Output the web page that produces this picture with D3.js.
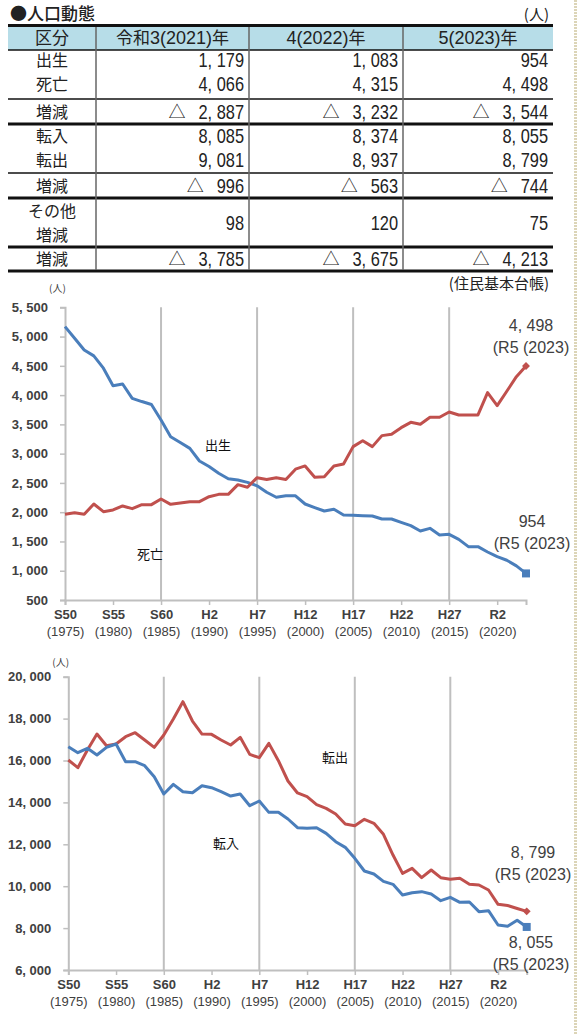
<!DOCTYPE html>
<html>
<head>
<meta charset="utf-8">
<script src="https://cdnjs.cloudflare.com/ajax/libs/d3/7.8.5/d3.min.js"></script>
<style>
  body { margin: 0; background: #fff; }
  svg { display: block; }
  .jp { font-family: "Noto Sans CJK JP", sans-serif; }
</style>
</head>
<body>
<div id="chart"></div>
<script>
  // ---- table data (人) ----
  const tableCols = ['令和3(2021)年', '4(2022)年', '5(2023)年']
  const tblBirth = [1179, 1083, 954]
  const tblDeath = [4066, 4315, 4498]
  const tblNatural = [-2887, -3232, -3544]
  const tblIn = [8085, 8374, 8055]
  const tblOut = [9081, 8937, 8799]
  const tblSocial = [-996, -563, -744]
  const tblOther = [98, 120, 75]
  const tblTotal = [-3785, -3675, -4213]

  // ---- yearly series, S50(1975) .. R5(2023) ----
  const years = [1975, 1976, 1977, 1978, 1979, 1980, 1981, 1982, 1983, 1984,
    1985, 1986, 1987, 1988, 1989, 1990, 1991, 1992, 1993, 1994,
    1995, 1996, 1997, 1998, 1999, 2000, 2001, 2002, 2003, 2004,
    2005, 2006, 2007, 2008, 2009, 2010, 2011, 2012, 2013, 2014,
    2015, 2016, 2017, 2018, 2019, 2020, 2021, 2022, 2023]
  const births = [5170, 4970, 4770, 4670, 4460, 4160, 4190, 3945, 3890, 3840,
    3575, 3290, 3190, 3090, 2875, 2780, 2665, 2570, 2550, 2510,
    2450, 2340, 2255, 2280, 2280, 2140, 2078, 2020, 2050, 1952,
    1946, 1940, 1935, 1884, 1884, 1827, 1770, 1679, 1724, 1610,
    1622, 1536, 1411, 1411, 1320, 1240, 1179, 1083, 954]
  const deaths = [1964, 1992, 1964, 2140, 2009, 2038, 2106, 2060, 2129, 2129,
    2226, 2134, 2157, 2180, 2180, 2265, 2305, 2305, 2470, 2425,
    2590, 2560, 2590, 2560, 2735, 2790, 2596, 2607, 2790, 2824,
    3120, 3222, 3120, 3308, 3330, 3444, 3535, 3501, 3621, 3621,
    3712, 3661, 3661, 3661, 4042, 3820, 4066, 4315, 4498]
  const moveOut = [16023, 15657, 16500, 17264, 16707, 16786, 17136, 17327, 16977, 16627,
    17216, 17980, 18807, 17884, 17264, 17248, 16977, 16739, 17105, 16293,
    16134, 16818, 15991, 15021, 14450, 14273, 13891, 13716, 13446, 12968,
    12889, 13191, 13000, 12475, 11489, 10614, 10852, 10407, 10773, 10407,
    10327, 10375, 10089, 10057, 9818, 9134, 9081, 8937, 8799]
  const moveIn = [16659, 16373, 16580, 16262, 16627, 16786, 15943, 15943, 15752, 15227,
    14400, 14861, 14511, 14464, 14798, 14702, 14511, 14305, 14400, 13843,
    14066, 13525, 13525, 13207, 12793, 12761, 12793, 12523, 12125, 11855,
    11330, 10725, 10582, 10232, 10089, 9580, 9691, 9739, 9627, 9309,
    9468, 9230, 9245, 8784, 8832, 8148, 8085, 8374, 8055]

  const tickYears = [1975, 1980, 1985, 1990, 1995, 2000, 2005, 2010, 2015, 2020]
  const tickEras = ['S50', 'S55', 'S60', 'H2', 'H7', 'H12', 'H17', 'H22', 'H27', 'R2']
  const gridYears = [1985, 1995, 2005, 2015]

  const BLUE = '#4a7ebb'
  const RED = '#c0504d'
  const AXIS = '#bfbfbf'
  const LABEL = '#404040'
  const NARROW = '"Liberation Sans Narrow", "Liberation Sans", sans-serif'
  const CJK = '"Noto Sans CJK JP", sans-serif'
  const SQUEEZE = 0.82 // condensed look of the table digits

  const W = 585
  const H = 1034
  const fmt = v => d3.format(',')(v).replace(',', ', ')

  const svg = d3.select('#chart').append('svg')
    .attr('width', W)
    .attr('height', H)

  // dotted page border on the right
  svg.append('line')
    .attr('x1', 575.5).attr('x2', 575.5)
    .attr('y1', 0).attr('y2', H)
    .attr('stroke', '#dcd5b8')
    .attr('stroke-width', 3)
    .attr('stroke-dasharray', '2,1')

  function drawTable() {
    const g = svg.append('g')
    const left = 8
    const right = 553
    const colX = [left, 96, 249, 403, right]

    g.append('text').attr('class', 'jp')
      .attr('x', 10).attr('y', 20)
      .attr('font-size', 17).attr('font-weight', 500).attr('fill', '#222')
      .text('●人口動態')
    g.append('text').attr('class', 'jp')
      .attr('x', 549).attr('y', 20).attr('text-anchor', 'end')
      .attr('font-size', 15).attr('fill', '#222')
      .text('(人)')

    // header background
    g.append('rect')
      .attr('x', left).attr('y', 26)
      .attr('width', right - left).attr('height', 24)
      .attr('fill', '#b7dde8')

    const headers = ['区分'].concat(tableCols)
    headers.forEach((h, i) => {
      const cx = (colX[i] + colX[i + 1]) / 2
      const t = g.append('text')
        .attr('x', cx).attr('y', 44)
        .attr('text-anchor', 'middle')
        .attr('fill', '#222')
      // mix japanese glyphs with narrow digits
      const parts = h.match(/[0-9()]+|[^0-9()]+/g)
      parts.forEach(p => {
        const isNum = /[0-9()]/.test(p)
        t.append('tspan')
          .attr('font-family', isNum ? NARROW : CJK)
          .attr('font-size', isNum ? 18 : 17)
          .text(p)
      })
    })

    const rows = [
      { label: ['出生'], vals: tblBirth, y: 60 },
      { label: ['死亡'], vals: tblDeath, y: 84 },
      { label: ['増減'], vals: tblNatural, y: 112 },
      { label: ['転入'], vals: tblIn, y: 136 },
      { label: ['転出'], vals: tblOut, y: 160 },
      { label: ['増減'], vals: tblSocial, y: 186 },
      { label: ['その他', '増減'], vals: tblOther, y: 223 },
      { label: ['増減'], vals: tblTotal, y: 259 }
    ]

    rows.forEach(r => {
      r.label.forEach((l, k) => {
        const dy = r.label.length > 1 ? (k === 0 ? -12 : 12) : 0
        g.append('text').attr('class', 'jp')
          .attr('x', 52).attr('y', r.y + dy + 6)
          .attr('text-anchor', 'middle')
          .attr('font-size', 16).attr('fill', '#222')
          .text(l)
      })
      r.vals.forEach((v, i) => {
        const xr = colX[i + 2] - 5
        const yb = r.y + 7
        const num = g.append('g')
          .attr('transform', `translate(${xr},${yb}) scale(${SQUEEZE},1)`)
          .append('text')
          .attr('text-anchor', 'end')
          .attr('fill', '#222')
          .attr('font-family', NARROW)
          .attr('font-size', 20)
          .text(fmt(Math.abs(v)))
        if (v < 0) {
          // triangle mark for decrease, set apart from the digits
          const w = num.node().getComputedTextLength() * SQUEEZE + 13
          g.append('text')
            .attr('x', xr - w).attr('y', yb - 1)
            .attr('text-anchor', 'end')
            .attr('fill', '#222')
            .attr('font-family', CJK)
            .attr('font-size', 17)
            .text('△')
        }
      })
    })

    const hLines = [
      { y: 25.5, w: 3 }, { y: 50, w: 1.3 }, { y: 99, w: 1.3 }, { y: 124, w: 3 },
      { y: 173, w: 1.3 }, { y: 198, w: 3 }, { y: 247, w: 3 }, { y: 271, w: 3 }
    ]
    hLines.forEach(l => {
      g.append('line')
        .attr('x1', left).attr('x2', right)
        .attr('y1', l.y).attr('y2', l.y)
        .attr('stroke', '#111').attr('stroke-width', l.w)
    })
    colX.slice(1, 4).forEach(x => {
      g.append('line')
        .attr('x1', x).attr('x2', x)
        .attr('y1', 27).attr('y2', 270)
        .attr('stroke', '#666').attr('stroke-width', 1.5)
    })

    g.append('text').attr('class', 'jp')
      .attr('x', 549).attr('y', 289).attr('text-anchor', 'end')
      .attr('font-size', 15).attr('fill', '#222')
      .text('(住民基本台帳)')
  }

  function drawChart(cfg) {
    const g = svg.append('g')

    const x = d3.scaleLinear()
      .domain([years[0], years[years.length - 1]])
      .range([cfg.x0, cfg.x1])
    const y = d3.scaleLinear()
      .domain(cfg.yDomain)
      .range([cfg.yBottom, cfg.yTop])

    // vertical gridlines
    g.selectAll('.grid')
      .data(gridYears)
      .join('line')
      .attr('x1', d => x(d)).attr('x2', d => x(d))
      .attr('y1', cfg.yTop).attr('y2', cfg.yBottom)
      .attr('stroke', AXIS).attr('stroke-width', 2)

    // y axis
    const yAxis = d3.axisLeft(y)
      .tickValues(cfg.yTicks)
      .tickSize(5)
      .tickPadding(12)
      .tickFormat(fmt)
    const yg = g.append('g')
      .attr('transform', `translate(${cfg.x0},0)`)
      .call(yAxis)
    yg.select('.domain').attr('stroke', AXIS).attr('stroke-width', 2)
    yg.selectAll('.tick line').attr('stroke', AXIS).attr('stroke-width', 1.5)
    yg.selectAll('.tick text')
      .attr('fill', LABEL)
      .attr('font-family', NARROW)
      .attr('font-size', 13)
      .attr('font-weight', 'bold')

    // x axis
    const xAxis = d3.axisBottom(x)
      .tickValues(tickYears)
      .tickSize(5)
      .tickFormat('')
    const xg = g.append('g')
      .attr('transform', `translate(0,${cfg.yBottom})`)
      .call(xAxis)
    xg.select('.domain').attr('stroke', AXIS).attr('stroke-width', 2)
    xg.selectAll('.tick line').attr('stroke', AXIS).attr('stroke-width', 1.5)

    const lab = xg.selectAll('.tick')
    lab.append('text')
      .attr('y', 19)
      .attr('fill', LABEL)
      .attr('font-family', NARROW)
      .attr('font-size', 13).attr('font-weight', 'bold')
      .attr('text-anchor', 'middle')
      .text((d, i) => tickEras[i])
    lab.append('text')
      .attr('y', 36)
      .attr('fill', LABEL)
      .attr('font-family', NARROW)
      .attr('font-size', 13)
      .attr('text-anchor', 'middle')
      .text(d => `(${d})`)

    g.append('text').attr('class', 'jp')
      .attr('x', cfg.x0 - 16).attr('y', cfg.unitY)
      .attr('font-size', 10).attr('fill', LABEL)
      .text('(人)')

    const line = d3.line()
      .x((d, i) => x(years[i]))
      .y(d => y(d))

    cfg.series.forEach(s => {
      g.append('path')
        .datum(s.values)
        .attr('d', line)
        .attr('fill', 'none')
        .attr('stroke', s.color)
        .attr('stroke-width', 3)
        .attr('stroke-linejoin', 'round')

      const last = s.values[s.values.length - 1]
      const ex = x(years[years.length - 1])
      const ey = y(last)
      if (s.marker === 'square') {
        g.append('rect')
          .attr('x', ex - 4).attr('y', ey - 4)
          .attr('width', 8).attr('height', 8)
          .attr('fill', s.color)
      } else {
        g.append('path')
          .attr('d', d3.symbol(d3.symbolDiamond2, 40)())
          .attr('transform', `translate(${ex},${ey})`)
          .attr('fill', s.color)
      }

      g.append('text').attr('class', 'jp')
        .attr('x', s.labelPos[0]).attr('y', s.labelPos[1])
        .attr('font-size', 13).attr('fill', '#111')
        .text(s.name)

      const ax = s.annoPos[0]
      const ay = s.annoPos[1]
      g.append('text')
        .attr('x', ax).attr('y', ay)
        .attr('text-anchor', 'middle')
        .attr('font-family', NARROW)
        .attr('font-size', 16).attr('fill', LABEL)
        .text(fmt(last))
      g.append('text')
        .attr('x', ax).attr('y', ay + 22)
        .attr('text-anchor', 'middle')
        .attr('font-family', NARROW)
        .attr('font-size', 16).attr('fill', LABEL)
        .text(`(R5 (${years[years.length - 1]})`)
    })
  }

  drawTable()

  drawChart({
    x0: 65, x1: 526,
    yTop: 307.3, yBottom: 600,
    yDomain: [500, 5500],
    yTicks: [500, 1000, 1500, 2000, 2500, 3000, 3500, 4000, 4500, 5000, 5500],
    unitY: 292,
    series: [
      { name: '出生', values: births, color: BLUE, marker: 'square', labelPos: [205, 450], annoPos: [532, 527] },
      { name: '死亡', values: deaths, color: RED, marker: 'diamond', labelPos: [137, 559], annoPos: [531, 331] }
    ]
  })

  drawChart({
    x0: 68.3, x1: 526.7,
    yTop: 676.7, yBottom: 970,
    yDomain: [6000, 20000],
    yTicks: [6000, 8000, 10000, 12000, 14000, 16000, 18000, 20000],
    unitY: 666,
    series: [
      { name: '転出', values: moveOut, color: RED, marker: 'diamond', labelPos: [322, 762], annoPos: [533, 858] },
      { name: '転入', values: moveIn, color: BLUE, marker: 'square', labelPos: [213, 848], annoPos: [531, 948] }
    ]
  })
</script>
</body>
</html>
